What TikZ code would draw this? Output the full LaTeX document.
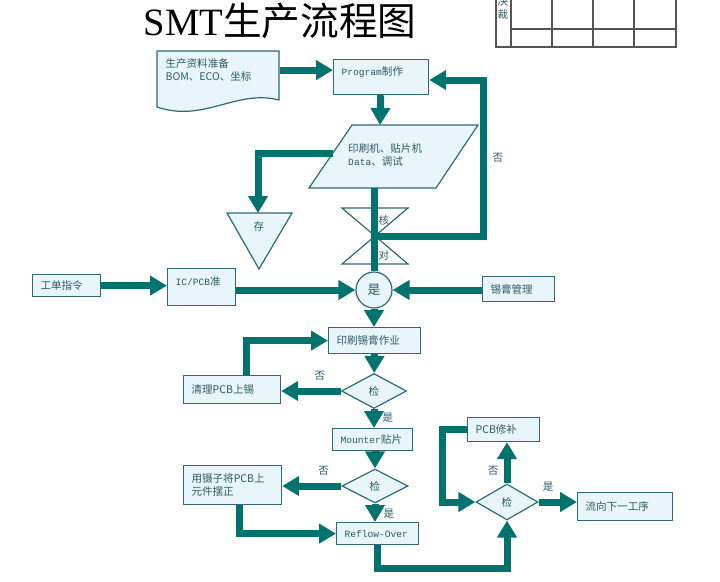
\documentclass[tikz,border=0pt]{standalone}
\usepackage{fontspec}
\setmainfont{Noto Sans CJK SC}
\newfontfamily\monofont{Liberation Mono}
\newfontfamily\titlefont{Liberation Serif}
\usetikzlibrary{arrows.meta,shapes.geometric}
\newlength\px
\setlength\px{0.03cm}
\definecolor{flowteal}{HTML}{00736E}
\definecolor{boxfill}{HTML}{E8F5FA}
\definecolor{boxline}{HTML}{2F6A74}
\definecolor{txt}{HTML}{2E5B66}
\definecolor{gridgray}{HTML}{555555}
\tikzset{
  flowline/.style={draw=flowteal, line width=7\px},
  flow/.style={flowline, -{Triangle[length=14.5pt,width=16.2pt]}},
  box/.style 2 args={draw=boxline, fill=boxfill, line width=1.2\px, anchor=north west,
    minimum width=#1\px, minimum height=#2\px, inner xsep=8\px, inner ysep=0pt,
    align=left, text=txt, font=\fontsize{9}{11}\selectfont,
    /utils/exec={\pgfmathsetlengthmacro\boxtw{(#1-16)*\px}}, text width=\boxtw},
  shapeline/.style={draw=boxline, fill=boxfill, line width=1.2\px},
  check/.style={diamond, shapeline, inner sep=0pt, text=txt, font=\fontsize{9}{11}\selectfont},
  lab/.style={text=txt, font=\fontsize{9}{11}\selectfont, inner sep=1\px},
  gridline/.style={draw=gridgray, line width=1.2\px},
}
\newcommand{\mono}[1]{{\monofont\fontsize{8.2}{11}\selectfont #1}}

\begin{document}
\begin{tikzpicture}[x=0.03cm,y=-0.03cm]
\useasboundingbox (0,0) rectangle (720,581);

\node[font=\fontsize{33}{33}\selectfont, inner sep=0pt] (title) at (280,21) {{\titlefont SMT}生产流程图};
\draw[gridline] (496,0) -- (496,47) -- (676,47) -- (676,0);
\foreach \x in {511,552,593,634} \draw[gridline] (\x,0) -- (\x,47);
\draw[gridline] (511,29) -- (676,29);
\node[lab, align=center] (sign) at (503,8) {决\\裁};

\draw[shapeline] (157,51) -- (279,51) -- (279,100) .. controls (236,89) and (204,123) .. (157,107) -- cycle;
\node[box={122}{37}, draw=none, fill=none] (doc) at (157,51) {生产资料准备\\BOM、ECO、坐标};
\node[box={95}{35}] (prog) at (333,59) {\mono{Program}制作\\~};

\draw[shapeline] (352,125) -- (478,125) -- (436,188) -- (309,188) -- cycle;
\node[lab, anchor=west, align=left] (para) at (347,155) {印刷机、贴片机\\\mono{Data}、调试};
\coordinate (para-n) at (380,125);
\coordinate (para-w) at (333,153);
\coordinate (para-s) at (374,188);

\draw[shapeline] (227,213) -- (292,213) -- (259,269) -- cycle;
\coordinate (store-n) at (258,213);
\node[lab] (store) at (259,226) {存};

\draw[shapeline, fill=white] (342,208) -- (408,208) -- (342,264) -- (408,264) -- cycle;
\coordinate (hg) at (375,236);
\coordinate (loop-ne) at (483,80);
\node[lab] (verify-1) at (384,220) {核};
\node[lab] (verify-2) at (384,255) {对};

\node[circle, shapeline, minimum size=36\px, inner sep=0pt, text=txt,
  font=\fontsize{11}{13}\selectfont] (ok) at (374,290) {是};
\node[box={68}{22}] (order) at (32,274) {工单指令};
\node[box={68}{37}] (icpcb) at (167,268) {\mono{IC/PCB}准\\~};
\node[box={72}{25}] (paste) at (482,276) {锡膏管理};

\node[box={92}{26}] (print) at (328,327) {印刷锡膏作业};
\node[check, minimum width=65\px, minimum height=35\px] (chk1) at (374,391) {检};
\node[box={97}{28}] (clean) at (183,375) {清理PCB上锡};

\node[box={80}{22}] (mount) at (332,428) {\mono{Mounter}贴片};
\node[check, minimum width=66\px, minimum height=34\px] (chk2) at (375,486) {检};
\node[box={98}{39}] (tweez) at (183,465) {用镊子将PCB上\\元件摆正};
\node[box={82}{22}, inner xsep=7\px] (reflow) at (336,522) {\mbox{\mono{Reflow-Over}}};

\node[check, minimum width=62\px, minimum height=36\px] (chk3) at (507,502) {检};
\node[box={72}{24}] (repair) at (467,417) {PCB修补};
\node[box={95}{28}] (next) at (577,492) {流向下一工序};

\draw[flow] (doc.east) -- (prog.west |- doc.east);
\draw[flow] (prog) -- (para-n);
\draw[flow] (para-w) -| (store-n);
\draw[flowline] (para-s) -- (ok);
\draw[flow] (hg) -| node[lab, right=5\px, pos=0.75] (no-0) {否} (loop-ne) -- (prog.east |- loop-ne);
\draw[flow] (order) -- (icpcb.west |- order);
\draw[flow] (icpcb.east |- ok) -- (ok);
\draw[flow] (paste.west |- ok) -- (ok);
\draw[flow] (ok) -- (ok |- print.north);
\draw[flow] ([xshift=14\px]clean.north) |- (print.west);
\draw[flow] (print) -- (chk1);
\draw[flow] (chk1.west) -- node[lab, above=6\px, pos=0.35] (no-1) {否} (clean.east |- chk1.west);
\draw[flow] (chk1.south) -- node[lab, right=4\px, pos=0.45] (yes-1) {是} (chk1.south |- mount.north);
\draw[flow] (mount.south -| chk2) -- (chk2);
\draw[flow] (chk2.west) -- node[lab, above=6\px, pos=0.3] (no-2) {否} (tweez.east |- chk2.west);
\draw[flow] (chk2.south) -- node[lab, right=4\px, pos=0.55] (yes-2) {是} (chk2.south |- reflow.north);
\draw[flow] ([xshift=7\px]tweez.south) |- (reflow.west);
\draw[flow] (reflow.south) -- ++(0,23) -| (chk3.south);
\draw[flow] (chk3.north) -- node[lab, left=4\px, pos=0.3] (no-3) {否} (chk3.north |- repair.south);
\draw[flow] (repair.west) -- ++(-25,0) |- (chk3.west);
\draw[flow] (chk3.east) -- node[lab, above=6\px, pos=0.25] (yes-3) {是} (next.west |- chk3.east);
\end{tikzpicture}
\end{document}
